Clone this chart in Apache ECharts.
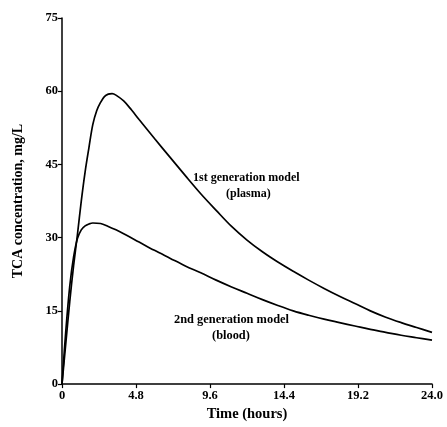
<!DOCTYPE html>
<html>
<head>
<meta charset="utf-8">
<script src="https://cdn.jsdelivr.net/npm/echarts@6/dist/echarts.min.js"></script>
<style>html,body{margin:0;padding:0;background:#fff}#c{width:447px;height:427px}</style>
</head>
<body>
<div id="c"></div>
<script>
const xTicks = [0, 4.8, 9.6, 14.4, 19.2, 24.0];
const yTicks = [0, 15, 30, 45, 60, 75];

const plasmaT = [0,0.25,0.5,0.75,1.0,1.25,1.5,1.75,2.0,2.25,2.5,2.75,3.0,3.25,3.5,4.0,4.5,5,6,7,8,9,10,11,12,13,14,15,16,17,18,19,20,21,22,23,24];
const plasmaV = [0,8.5,16.8,24.2,30.6,37.5,43.5,48.5,53.2,56.0,57.7,58.9,59.4,59.5,59.2,58.0,56.2,54.2,50.3,46.5,42.7,39.0,35.6,32.3,29.5,27.1,25.0,23.1,21.3,19.6,18.0,16.5,15.0,13.7,12.6,11.6,10.6];

const bloodT = [0,0.25,0.5,0.75,1.0,1.25,1.5,1.75,2.0,2.5,3.0,3.5,4,5,6,7,8,9,10,11,12,13,14,15,16,17,18,19,20,21,22,23,24];
const bloodV = [0,11,20,26,29.8,31.6,32.4,32.8,33.0,32.9,32.3,31.6,30.8,29.1,27.4,25.8,24.2,22.8,21.3,19.9,18.6,17.3,16.1,15.0,14.1,13.3,12.6,11.9,11.2,10.6,10.0,9.5,9.0];

const FONT = '"Liberation Serif", "DejaVu Serif", serif';
const zip = (a, b) => a.map((v, i) => [v, b[i]]);

const chart = echarts.init(document.getElementById('c'));
chart.setOption({
  animation: false,
  backgroundColor: '#fff',
  grid: { left: 62, right: 15, top: 18, bottom: 42, containLabel: false },
  xAxis: {
    type: 'value', min: 0, max: 24, interval: 4.8,
    name: 'Time (hours)', nameLocation: 'middle', nameGap: 14,
    nameTextStyle: { fontFamily: FONT, fontWeight: 'bold', fontSize: 14.5, color: '#000' },
    axisLine: { lineStyle: { color: '#000', width: 1.5 } },
    axisTick: { show: true, length: 4, inside: false, lineStyle: { color: '#000', width: 1.2 } },
    axisLabel: { fontFamily: FONT, fontWeight: 'bold', fontSize: 12.5, color: '#000', margin: 5,
      formatter: v => { const t = xTicks.find(x => Math.abs(x - v) < 1e-6); return t === 0 ? '0' : (t !== undefined ? t.toFixed(1) : ''); } },
    splitLine: { show: false }
  },
  yAxis: {
    type: 'value', min: 0, max: 75, interval: 15,
    name: 'TCA concentration, mg/L', nameLocation: 'middle', nameGap: 37,
    nameTextStyle: { fontFamily: FONT, fontWeight: 'bold', fontSize: 14, color: '#000' },
    axisLine: { show: true, lineStyle: { color: '#000', width: 1.5 } },
    axisTick: { show: true, length: 4, lineStyle: { color: '#000', width: 1.2 } },
    axisLabel: { fontFamily: FONT, fontWeight: 'bold', fontSize: 12.5, color: '#000', margin: 4,
      formatter: v => yTicks.includes(v) ? String(v) : '' },
    splitLine: { show: false }
  },
  series: [
    { name: 'plasma', type: 'line', data: zip(plasmaT, plasmaV), smooth: 0.35, showSymbol: false,
      lineStyle: { color: '#000', width: 1.7 } },
    { name: 'blood', type: 'line', data: zip(bloodT, bloodV), smooth: 0.35, showSymbol: false,
      lineStyle: { color: '#000', width: 1.7 } }
  ],
  graphic: [
    { type: 'text', left: 193, top: 172, style: { text: '1st generation model', fontFamily: FONT, fontWeight: 'bold', fontSize: 12, fill: '#000' } },
    { type: 'text', left: 226, top: 188, style: { text: '(plasma)', fontFamily: FONT, fontWeight: 'bold', fontSize: 12, fill: '#000' } },
    { type: 'text', left: 174, top: 314, style: { text: '2nd generation model', fontFamily: FONT, fontWeight: 'bold', fontSize: 12.4, fill: '#000' } },
    { type: 'text', left: 212, top: 330, style: { text: '(blood)', fontFamily: FONT, fontWeight: 'bold', fontSize: 12.4, fill: '#000' } }
  ]
});
</script>
</body>
</html>
